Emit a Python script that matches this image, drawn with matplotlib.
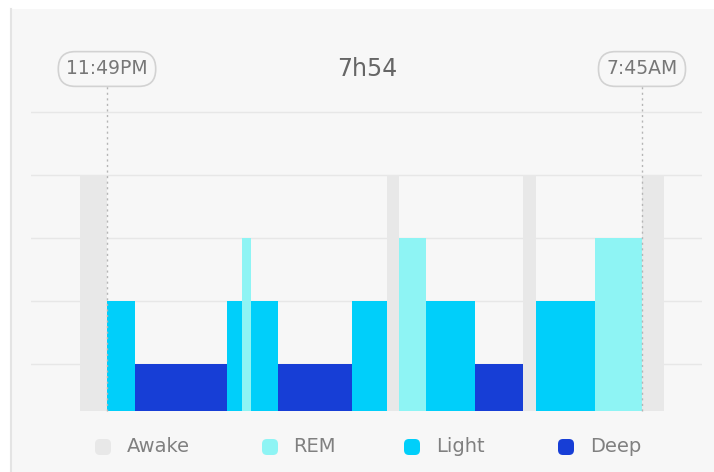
import matplotlib
matplotlib.use("Agg")
import matplotlib.pyplot as plt
from matplotlib.patches import FancyBboxPatch, Rectangle

# ---- data ----
stage_names = ["Awake", "REM", "Light", "Deep"]
stage_levels = [4, 3, 2, 1]
segment_stages = ["Awake", "Light", "Deep", "Light", "REM", "Light", "Deep", "Light",
                  "Awake", "REM", "Light", "Deep", "Awake", "Light", "REM", "Awake"]
segment_starts = ["23:25", "23:49", "00:14", "01:36", "01:49", "01:57", "02:21", "03:27",
                  "03:58", "04:09", "04:33", "05:16", "05:59", "06:11", "07:03", "07:45"]
segment_end_last = "08:05"
sleep_start = "11:49PM"
sleep_end = "7:45AM"
total_label = "7h54"

# ---- style ----
stage_colors = {"Awake": "#e8e8e8", "REM": "#8ef4f4", "Light": "#00cffa", "Deep": "#173ed6"}
bg = "#f7f7f7"
W, H = 714, 472


def to_min(t):
    h, m = map(int, t.split(":"))
    v = h * 60 + m
    if h >= 12:
        v -= 24 * 60
    return v - (-11)  # minutes after 23:49


def label_min(t):
    hm, ap = t[:-2], t[-2:]
    h, m = map(int, hm.split(":"))
    if ap == "PM" and h != 12:
        h += 12
    if ap == "AM" and h == 12:
        h = 0
    return to_min(f"{h:02d}:{m:02d}")


level_of = dict(zip(stage_names, stage_levels))
starts = [to_min(t) for t in segment_starts]
ends = starts[1:] + [to_min(segment_end_last)]

fig = plt.figure(figsize=(W / 100, H / 100), dpi=100, facecolor="white")

# background / decoration axes in pixel coordinates
bgax = fig.add_axes([0, 0, 1, 1], zorder=0)
bgax.set_xlim(0, W)
bgax.set_ylim(H, 0)
bgax.axis("off")
bgax.add_patch(Rectangle((11, 9), W - 11, H - 9, facecolor=bg, edgecolor="none"))
bgax.plot([11, 11], [9, H], color="#e4e4e4", lw=1.5)

# main data axes
x0_px, x1_px, ytop_px, ybot_px = 31, 702, 80, 411
ax = fig.add_axes([x0_px / W, (H - ybot_px) / H, (x1_px - x0_px) / W, (ybot_px - ytop_px) / H],
                  zorder=1)
ax.patch.set_alpha(0)
px_per_min = (642 - 107) / 476.0
ax.set_xlim((x0_px - 107) / px_per_min, (x1_px - 107) / px_per_min)
base = 1 - 47 / 63.0
ax.set_ylim(base, 1 + (364 - ytop_px) / 63.0)
for s in ax.spines.values():
    s.set_visible(False)
ax.set_xticks([])
ax.set_yticks([])

for g in [1, 2, 3, 4, 5]:
    ax.axhline(g, color="#e7e7e7", lw=1.0, zorder=0)

for st, a, b in zip(segment_stages, starts, ends):
    ax.bar(a, level_of[st] - base, width=b - a, bottom=base, align="edge",
           color=stage_colors[st], edgecolor="none", zorder=2)

# start / end markers
t0 = label_min(sleep_start)
t1 = label_min(sleep_end)
pill_y = (ybot_px - 69) / (ybot_px - ytop_px)
line_top = (ybot_px - 86) / (ybot_px - ytop_px)
for t, lab in [(t0, sleep_start), (t1, sleep_end)]:
    ax.plot([t, t], [0, line_top], transform=ax.get_xaxis_transform(), color="#b5b5b5",
            lw=1.0, ls=(0, (1.5, 2.5)), zorder=3, clip_on=False)
    ax.text(t, pill_y, lab, transform=ax.get_xaxis_transform(), ha="center", va="center",
            fontsize=13.5, color="#777777", zorder=4, clip_on=False,
            bbox=dict(boxstyle="round,pad=0.42,rounding_size=0.9", facecolor=bg,
                      edgecolor="#d2d2d2", lw=1.2))

bgax.text(367, 69, total_label, ha="center", va="center", fontsize=17, color="#666666")

# legend
leg_marker_x = [103, 270, 412, 566]
leg_text_x = [127, 293, 436, 590]
leg_y = 447
for name, mx, tx in zip(stage_names, leg_marker_x, leg_text_x):
    bgax.add_patch(FancyBboxPatch((mx - 8, leg_y - 8), 16, 16,
                                  boxstyle="round,pad=0,rounding_size=5",
                                  facecolor=stage_colors[name], edgecolor="none"))
    bgax.text(tx, leg_y, name, ha="left", va="center", fontsize=14, color="#808080")

fig.savefig("out.png", dpi=100, facecolor="white")
